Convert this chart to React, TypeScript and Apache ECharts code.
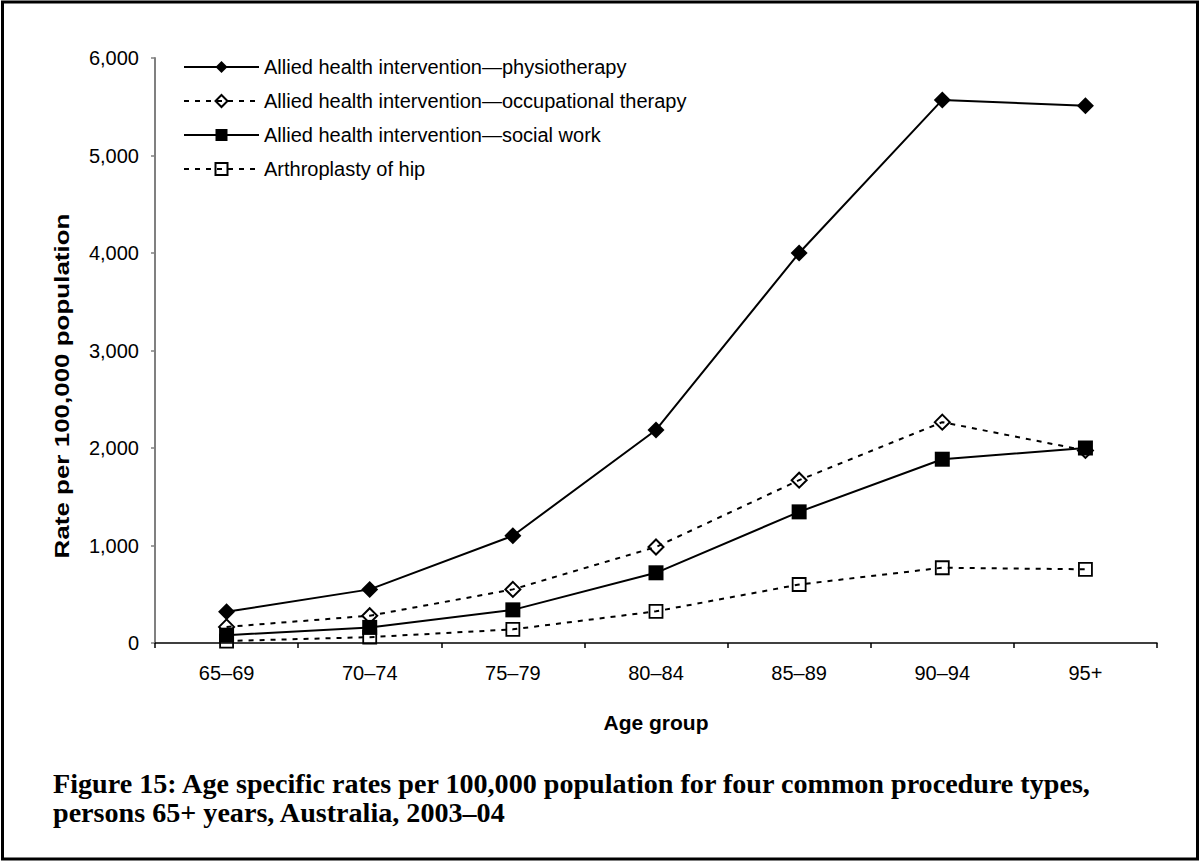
import React, { useEffect, useRef } from "react";
import * as echarts from "echarts";

const ageGroups = ["65–69", "70–74", "75–79", "80–84", "85–89", "90–94", "95+"];
const physiotherapy = [320, 550, 1100, 2185, 4000, 5570, 5510];
const occupationalTherapy = [165, 280, 550, 985, 1670, 2265, 1975];
const socialWork = [80, 160, 340, 720, 1345, 1885, 2000];
const hipArthroplasty = [20, 60, 140, 325, 600, 772, 756];
const seriesNames = [
  "Allied health intervention—physiotherapy",
  "Allied health intervention—occupational therapy",
  "Allied health intervention—social work",
  "Arthroplasty of hip",
];
const yMin = 0;
const yMax = 6000;
const yInterval = 1000;
const xAxisTitle = "Age group";
const yAxisTitle = "Rate per 100,000 population";
const captionLines = [
  "Figure 15: Age specific rates per 100,000 population for four common procedure types,",
  "persons 65+ years, Australia, 2003–04",
];

const SANS = '"Liberation Sans", Arial, sans-serif';
const SERIF = '"Liberation Serif", "Times New Roman", serif';

function measure(text: string, font: string): number {
  const c = document.createElement("canvas").getContext("2d");
  if (!c) return text.length * 10;
  c.font = font;
  return c.measureText(text).width;
}

export default function App() {
  const ref = useRef<HTMLDivElement>(null);
  useEffect(() => {
    if (!ref.current) return;
    const chart = echarts.init(ref.current, undefined, { renderer: "svg" });

    const capBase = 24;
    const capW = measure(captionLines[0], `bold ${capBase}px ${SERIF}`);
    const capSize = (capBase * 1040) / capW;
    const yTitleW = measure(yAxisTitle, `bold 21px ${SANS}`);
    const yTitleScale = 345 / yTitleW;

    const dash = [5, 6];
    const hollow = "rgba(0,0,0,0)";

    chart.setOption({
      animation: false,
      backgroundColor: "#fff",
      textStyle: { fontFamily: SANS, color: "#000" },
      grid: { left: 155, right: 42, top: 58, bottom: 218, containLabel: false },
      legend: {
        orient: "vertical",
        left: 183,
        top: 57,
        padding: 0,
        itemWidth: 75,
        itemHeight: 15,
        itemGap: 14,
        selectedMode: false,
        textStyle: { fontSize: 20, lineHeight: 20, color: "#000", fontFamily: SANS },
        data: seriesNames,
      },
      xAxis: {
        type: "category",
        data: ageGroups,
        boundaryGap: true,
        axisLine: { lineStyle: { color: "#000", width: 1.5 } },
        axisTick: { show: true, length: 5, lineStyle: { color: "#000", width: 1.5 } },
        axisLabel: { fontSize: 20, color: "#000", margin: 20, fontFamily: SANS, interval: 0 },
        name: xAxisTitle,
        nameLocation: "middle",
        nameGap: 69,
        nameTextStyle: { fontSize: 21, fontWeight: "bold", color: "#000", fontFamily: SANS },
        splitLine: { show: false },
      },
      yAxis: {
        type: "value",
        min: yMin,
        max: yMax,
        interval: yInterval,
        axisLine: { show: true, lineStyle: { color: "#808080", width: 2 } },
        axisTick: { show: true, length: 4, lineStyle: { color: "#808080", width: 1.5 } },
        axisLabel: {
          fontSize: 20,
          color: "#000",
          margin: 16,
          fontFamily: SANS,
          formatter: (v: number) => v.toLocaleString("en-US"),
        },
        splitLine: { show: false },
      },
      series: [
        {
          name: seriesNames[0],
          type: "line",
          data: physiotherapy,
          symbol: "diamond",
          symbolSize: 17,
          lineStyle: { color: "#000", width: 2, type: "solid" },
          itemStyle: { color: "#000" },
          emphasis: { disabled: true },
        },
        {
          name: seriesNames[1],
          type: "line",
          data: occupationalTherapy,
          symbol: "diamond",
          symbolSize: 15,
          lineStyle: { color: "#000", width: 2, type: dash },
          itemStyle: { color: hollow, borderColor: "#000", borderWidth: 2 },
          emphasis: { disabled: true },
        },
        {
          name: seriesNames[2],
          type: "line",
          data: socialWork,
          symbol: "rect",
          symbolSize: 15,
          lineStyle: { color: "#000", width: 2, type: "solid" },
          itemStyle: { color: "#000" },
          emphasis: { disabled: true },
        },
        {
          name: seriesNames[3],
          type: "line",
          data: hipArthroplasty,
          symbol: "rect",
          symbolSize: 13,
          lineStyle: { color: "#000", width: 2, type: dash },
          itemStyle: { color: hollow, borderColor: "#000", borderWidth: 1.8 },
          emphasis: { disabled: true },
        },
      ],
      graphic: [
        {
          type: "rect",
          silent: true,
          z: 100,
          shape: { x: 2.5, y: 2, width: 1195, height: 857 },
          style: { fill: "none", stroke: "#000", lineWidth: 3 },
        },
        {
          type: "text",
          silent: true,
          x: 62,
          y: 386,
          rotation: Math.PI / 2,
          scaleX: yTitleScale,
          style: {
            text: yAxisTitle,
            fontSize: 21,
            fontWeight: "bold",
            fontFamily: SANS,
            fill: "#000",
            align: "center",
            verticalAlign: "middle",
          },
        },
        {
          type: "text",
          silent: true,
          x: 53,
          y: 783,
          style: {
            text: captionLines[0],
            fontSize: capSize,
            fontWeight: "bold",
            fontFamily: SERIF,
            fill: "#000",
            align: "left",
            verticalAlign: "middle",
          },
        },
        {
          type: "text",
          silent: true,
          x: 53,
          y: 812,
          style: {
            text: captionLines[1],
            fontSize: capSize,
            fontWeight: "bold",
            fontFamily: SERIF,
            fill: "#000",
            align: "left",
            verticalAlign: "middle",
          },
        },
      ],
    });
    return () => chart.dispose();
  }, []);

  return (
    <div
      ref={ref}
      style={{ position: "fixed", left: 0, top: 0, width: 1199, height: 861, background: "#fff" }}
    />
  );
}
